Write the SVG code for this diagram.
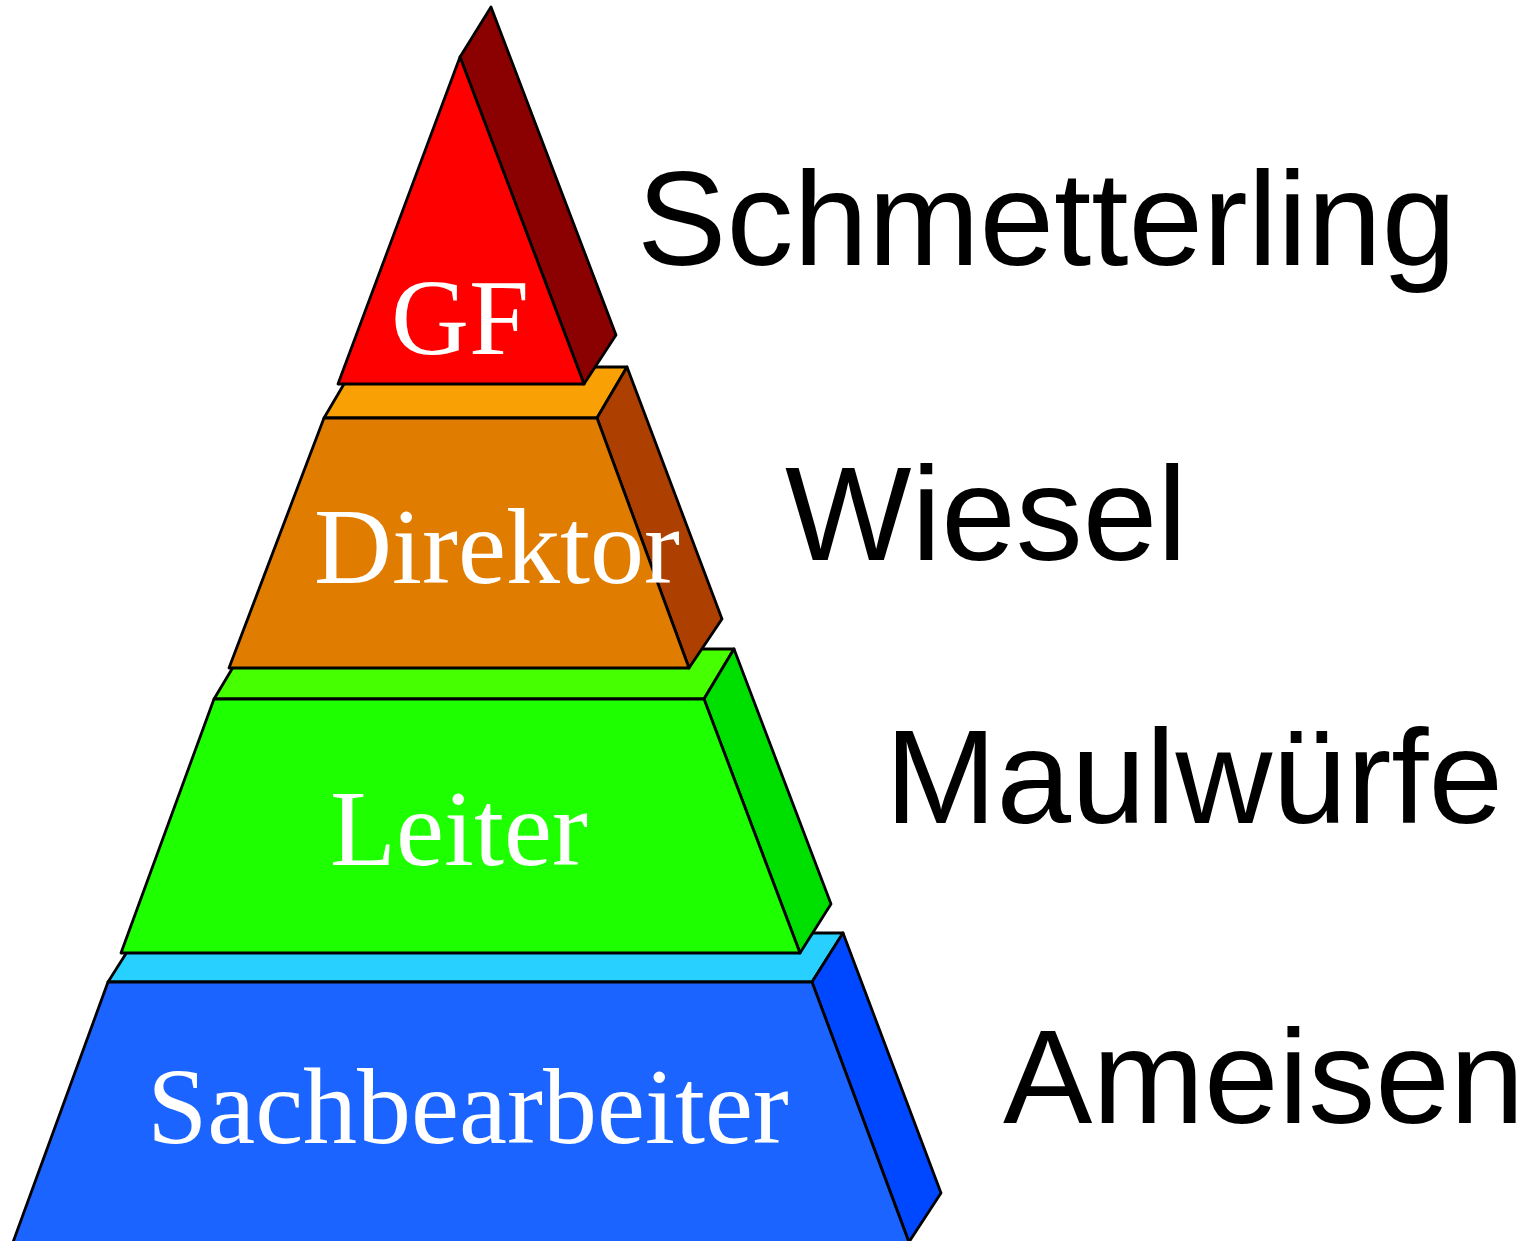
<svg xmlns="http://www.w3.org/2000/svg" width="1523" height="1241" viewBox="0 0 1523 1241">
  <style>
    .face { stroke: #000; stroke-width: 2.8; stroke-linejoin: round; }
    .tier-label { font-family: "Liberation Serif", "Times New Roman", serif; font-size: 108px; fill: #fff; text-anchor: middle; }
    .role-label { font-family: "Liberation Sans", Arial, sans-serif; font-size: 134px; fill: #000; }
  </style>
  <rect width="1523" height="1241" fill="#fff"/>

  <!-- bottom tier -->
  <g id="tier-sachbearbeiter">
    <polygon class="face" fill="#28D0FF" points="108,982 139,933 843,933 812,982"/>
    <polygon class="face" fill="#0048FF" points="812,982 843,933 941,1193 909,1242"/>
    <polygon class="face" fill="#1C64FF" points="108,982 812,982 910,1245 12,1245"/>
    <text class="tier-label" x="468" y="1143">Sachbearbeiter</text>
  </g>

  <!-- third tier -->
  <g id="tier-leiter">
    <polygon class="face" fill="#46FF00" points="214,699 244,649 734,649 704,699"/>
    <polygon class="face" fill="#00E000" points="704,699 734,649 831,904 800,953"/>
    <polygon class="face" fill="#1EFF00" points="214,699 704,699 800,953 121,953"/>
    <text class="tier-label" x="459" y="865">Leiter</text>
  </g>

  <!-- second tier -->
  <g id="tier-direktor">
    <polygon class="face" fill="#F9A004" points="324,418 354,367 627,367 597,418"/>
    <polygon class="face" fill="#AD3F00" points="597,418 627,367 722,619 689,668"/>
    <polygon class="face" fill="#E07D00" points="324,418 597,418 689,668 229,668"/>
    <text class="tier-label" x="497" y="583">Direktor</text>
  </g>

  <!-- top tier -->
  <g id="tier-gf">
    <polygon class="face" fill="#8B0000" points="460,57 491,7 616,335 584,384"/>
    <polygon class="face" fill="#FF0000" points="460,57 584,384 338,384"/>
    <text class="tier-label" x="460" y="354">GF</text>
  </g>

  <!-- role names beside each tier -->
  <g id="roles">
    <text id="role-schmetterling" class="role-label" x="637" y="265">Schmetterling</text>
    <text id="role-wiesel" class="role-label" x="785" y="560">Wiesel</text>
    <text id="role-maulwuerfe" class="role-label" x="885" y="823">Maulwürfe</text>
    <text id="role-ameisen" class="role-label" x="1003" y="1123">Ameisen</text>
  </g>
</svg>
